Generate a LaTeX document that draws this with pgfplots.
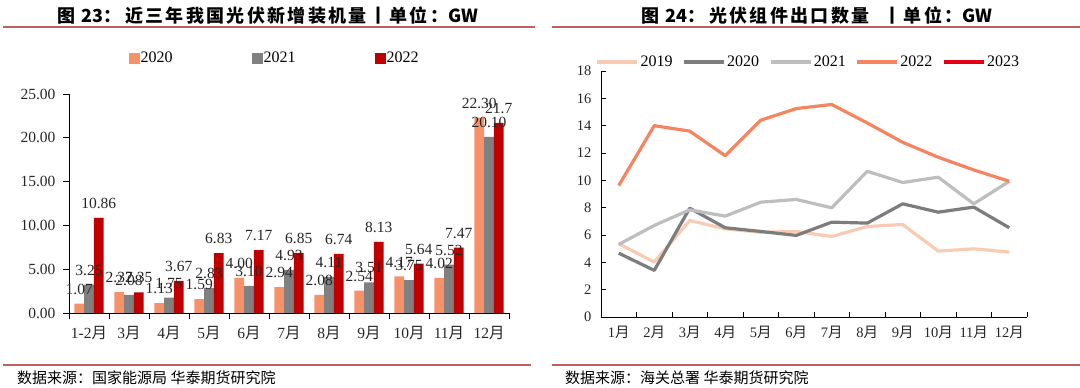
\documentclass[border=0pt]{standalone}
\usepackage{pgfplots}
\pgfplotsset{compat=1.18}
\usepackage{fontspec}
\setmainfont{Liberation Serif}
\newfontfamily\cjk{Noto Sans CJK SC}
\newfontfamily\cjkt{Noto Sans CJK SC}[LetterSpace=13]
\newcommand{\yue}{{\cjk 月}}
\newcommand{\nls}[1]{{\cjk\bfseries #1}}
\definecolor{cA}{RGB}{247,145,104}
\definecolor{cB}{RGB}{128,128,128}
\definecolor{cC}{RGB}{192,0,0}
\definecolor{l19}{RGB}{250,203,180}
\definecolor{l20}{RGB}{125,125,125}
\definecolor{l21}{RGB}{190,190,190}
\definecolor{l22}{RGB}{244,133,96}
\definecolor{l23}{RGB}{224,0,18}
\definecolor{rulecol}{RGB}{192,96,96}
\begin{document}
\begin{tikzpicture}[x=1pt,y=1pt]
\useasboundingbox (0,0) rectangle (1080,388);
\draw[rulecol, line width=2.2pt] (3,361) -- (535,361);
\draw[rulecol, line width=2.2pt] (552,361) -- (1080,361);
\draw[rulecol, line width=2.2pt] (3,23) -- (531,23);
\draw[rulecol, line width=2.2pt] (552,23) -- (1080,23);
\node[font=\cjkt\bfseries\fontsize{18}{20}\selectfont, anchor=west, inner sep=0pt] at (57,372) {图\hspace{6pt}\nls{23}：\hspace{4pt}近三年我国光伏新增装机量丨单位：\nls{GW}};
\node[font=\cjkt\bfseries\fontsize{18}{20}\selectfont, anchor=west, inner sep=0pt] at (641,372) {图\hspace{6pt}\nls{24}：\hspace{4pt}光伏组件出口数量\hspace{14pt}丨单位：\nls{GW}};
\node[anchor=west, font=\cjk\fontsize{15}{17}\selectfont, inner sep=0pt] at (17,10) {数据来源：国家能源局 华泰期货研究院};
\node[anchor=west, font=\cjk\fontsize{15}{17}\selectfont, inner sep=0pt] at (565,10) {数据来源：海关总署 华泰期货研究院};

\begin{axis}[
  at={(69pt,75pt)}, anchor=south west,
  width=440pt, height=219pt, scale only axis,
  xmin=-0.5, xmax=10.5, ymin=0, ymax=25,
  axis x line*=bottom, axis y line*=left,
  axis line style={-, black, line width=0.9pt},
  ybar=0pt, bar width=9.7pt,
  xtick={0,...,10},
  xticklabels={1-2\yue,3\yue,4\yue,5\yue,6\yue,7\yue,8\yue,9\yue,10\yue,11\yue,12\yue},
  major x tick style={draw=none},
  minor xtick={-0.5,0.5,...,10.5},
  minor x tick style={black, line width=0.9pt},
  minor tick length=6pt,
  ytick={0,5,...,25},
  y tick style={black, line width=0.9pt},
  major tick length=6pt,
  tick align=outside,
  /pgf/number format/.cd, fixed, fixed zerofill, precision=2, assume math mode=true,
  /pgfplots/.cd,
  ticklabel style={font=\fontsize{15.5}{17}\selectfont, text=black!85},
  yticklabel style={xshift=-4pt},
  xticklabel style={yshift=-4pt},
  point meta=explicit symbolic,
  nodes near coords,
  every node near coord/.append style={font=\fontsize{15.5}{17}\selectfont, text=black!85, inner sep=1pt, yshift=8pt},
  legend columns=3,
  legend style={at={(0.466,1.164)}, anchor=center, draw=none, fill=none,
    font=\fontsize{16}{18}\selectfont, inner sep=0pt,
    nodes={inner sep=1pt},
    /tikz/every even column/.append style={column sep=78pt}},
  legend image code/.code={\fill[#1] (0pt,-5.5pt) rectangle (11pt,5.5pt);},
  clip=false,
]
\addplot[fill=cA, draw=none] coordinates {(0,1.07)[1.07] (1,2.37)[2.37] (2,1.13)[1.13] (3,1.59)[1.59] (4,4.00)[4.00] (5,2.94)[2.94] (6,2.08)[2.08] (7,2.54)[2.54] (8,4.17)[4.17] (9,4.02)[4.02] (10,22.30)[22.30]};
\addplot[fill=cB, draw=none] coordinates {(0,3.25)[3.25] (1,2.08)[2.08] (2,1.75)[1.75] (3,2.83)[2.83] (4,3.10)[3.10] (5,4.93)[4.93] (6,4.11)[4.11] (7,3.51)[3.51] (8,3.75)[3.75] (9,5.52)[5.52] (10,20.10)[20.10]};
\addplot[fill=cC, draw=none] coordinates {(0,10.86)[10.86] (1,2.35)[2.35] (2,3.67)[3.67] (3,6.83)[6.83] (4,7.17)[7.17] (5,6.85)[6.85] (6,6.74)[6.74] (7,8.13)[8.13] (8,5.64)[5.64] (9,7.47)[7.47] (10,21.7)[21.7]};
\legend{2020,2021,2022}
\end{axis}

\begin{axis}[
  at={(601pt,71pt)}, anchor=south west,
  width=426pt, height=246pt, scale only axis,
  xmin=0.5, xmax=12.5, ymin=0, ymax=18,
  axis x line*=bottom, axis y line*=left,
  axis line style={-, black, line width=0.9pt},
  xtick={1,...,12},
  xticklabels={1\yue,2\yue,3\yue,4\yue,5\yue,6\yue,7\yue,8\yue,9\yue,10\yue,11\yue,12\yue},
  major x tick style={draw=none},
  minor xtick={0.5,1.5,...,12.5},
  minor x tick style={black, line width=0.9pt},
  minor tick length=5pt,
  ytick={0,2,...,18},
  y tick style={black, line width=0.9pt},
  major tick length=5pt,
  tick align=inside,
  /pgf/number format/assume math mode=true,
  ticklabel style={font=\fontsize{14.5}{16}\selectfont, text=black!85},
  yticklabel style={xshift=-6pt},
  xticklabel style={yshift=-6pt},
  legend columns=5,
  legend style={at={(0.486,1.037)}, anchor=center, draw=none, fill=none,
    font=\fontsize{16}{18}\selectfont, inner sep=0pt,
    nodes={inner sep=1.5pt},
    /tikz/every even column/.append style={column sep=8pt}},
  legend image code/.code={\draw[#1, line width=3.6pt] (0pt,0pt) -- (40pt,0pt);},
  every axis plot/.append style={line width=3.2pt, line join=round},
  clip=false,
]
\addplot[l19, mark=none] coordinates {(1,5.36) (2,4.02) (3,7.06) (4,6.45) (5,6.20) (6,6.26) (7,5.89) (8,6.62) (9,6.77) (10,4.82) (11,4.99) (12,4.75)};
\addlegendentry{2019}
\addplot[l20, mark=none] coordinates {(1,4.67) (2,3.41) (3,7.96) (4,6.53) (5,6.26) (6,5.97) (7,6.94) (8,6.87) (9,8.28) (10,7.67) (11,8.04) (12,6.53)};
\addlegendentry{2020}
\addplot[l21, mark=none] coordinates {(1,5.31) (2,6.70) (3,7.84) (4,7.38) (5,8.40) (6,8.60) (7,7.99) (8,10.66) (9,9.84) (10,10.23) (11,8.28) (12,9.93)};
\addlegendentry{2021}
\addplot[l22, mark=none] coordinates {(1,9.62) (2,14.00) (3,13.60) (4,11.80) (5,14.40) (6,15.25) (7,15.55) (8,14.20) (9,12.78) (10,11.69) (11,10.76) (12,9.93)};
\addlegendentry{2022}
\addlegendimage{l23}
\addlegendentry{2023}
\end{axis}
\end{tikzpicture}
\end{document}
